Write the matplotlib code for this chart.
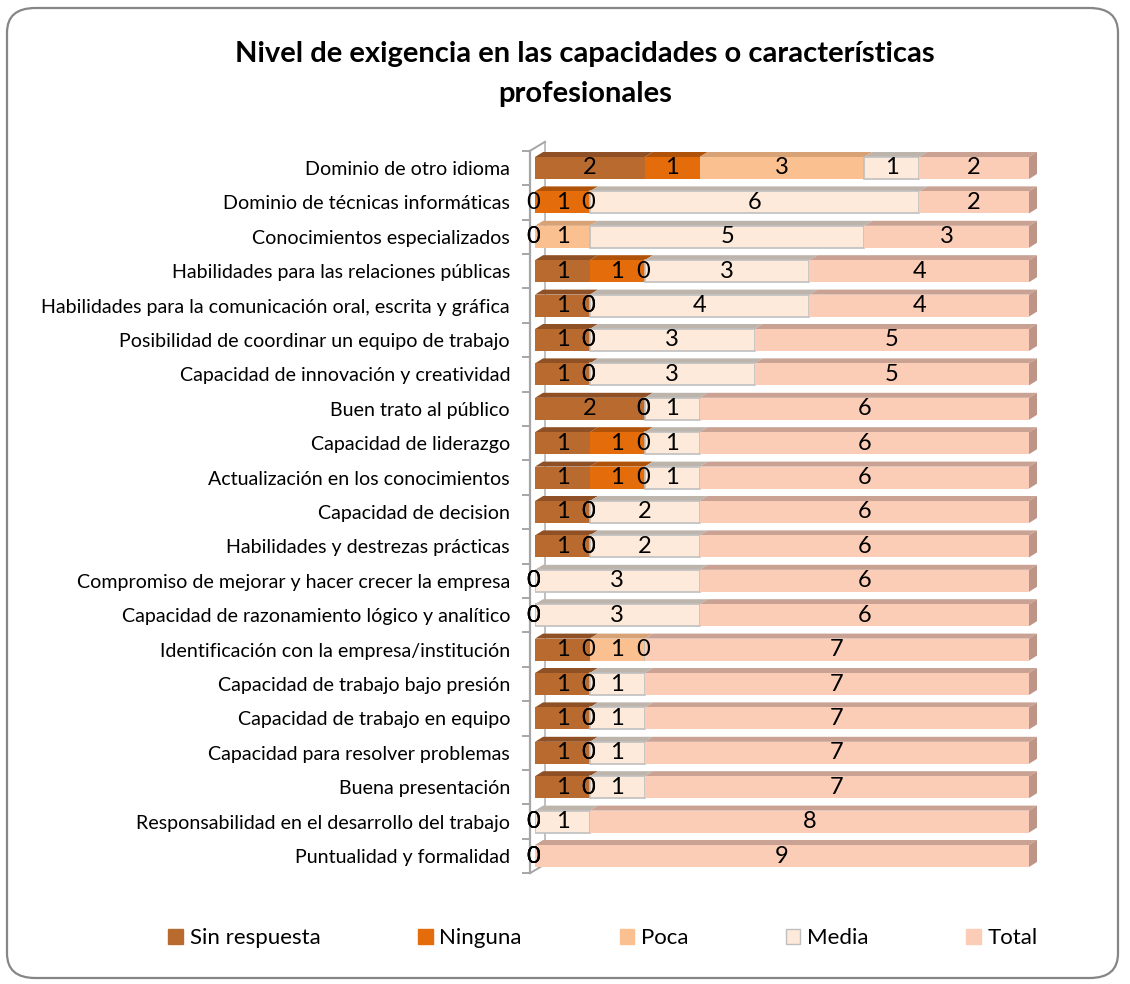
import matplotlib
matplotlib.use("Agg")
import matplotlib.pyplot as plt
from matplotlib.patches import Polygon, FancyBboxPatch, Patch
from matplotlib.lines import Line2D

# ---------------- data ----------------
categories = [
    "Dominio de otro idioma",
    "Dominio de técnicas informáticas",
    "Conocimientos especializados",
    "Habilidades para las relaciones públicas",
    "Habilidades para la comunicación oral, escrita y gráfica",
    "Posibilidad de coordinar un equipo de trabajo",
    "Capacidad de innovación y creatividad",
    "Buen trato al público",
    "Capacidad de liderazgo",
    "Actualización en los conocimientos",
    "Capacidad de decision",
    "Habilidades y destrezas prácticas",
    "Compromiso de mejorar y hacer crecer la empresa",
    "Capacidad de razonamiento lógico y analítico",
    "Identificación con la empresa/institución",
    "Capacidad de trabajo bajo presión",
    "Capacidad de trabajo en equipo",
    "Capacidad para resolver problemas",
    "Buena presentación",
    "Responsabilidad en el desarrollo del trabajo",
    "Puntualidad y formalidad",
]
sin_respuesta = [2, 0, 0, 1, 1, 1, 1, 2, 1, 1, 1, 1, 0, 0, 1, 1, 1, 1, 1, 0, 0]
ninguna       = [1, 1, 0, 1, 0, 0, 0, 0, 1, 1, 0, 0, 0, 0, 0, 0, 0, 0, 0, 0, 0]
poca          = [3, 0, 1, 0, 0, 0, 0, 0, 0, 0, 0, 0, 0, 0, 1, 0, 0, 0, 0, 0, 0]
media         = [1, 6, 5, 3, 4, 3, 3, 1, 1, 1, 2, 2, 3, 3, 0, 1, 1, 1, 1, 1, 0]
total         = [2, 2, 3, 4, 4, 5, 5, 6, 6, 6, 6, 6, 6, 6, 7, 7, 7, 7, 7, 8, 9]
series_names = ["Sin respuesta", "Ninguna", "Poca", "Media", "Total"]
title = "Nivel de exigencia en las capacidades o características\nprofesionales"

# ---------------- style ----------------
front_colors = ["#B96B2F", "#E46C0A", "#FAC090", "#FDEADA", "#FBCCB6"]
top_colors   = ["#8E5024", "#B0530A", "#D8A277", "#BDB4AC", "#C9A294"]
side_colors  = ["#8E5024", "#B0530A", "#D8A277", "#C8BDB3", "#BE9486"]
edge_colors  = ["none", "none", "none", "#BFBFBF", "none"]

FONT = ["Lato", "DejaVu Sans"]
plt.rcParams["font.family"] = FONT

W, H = 1130, 984
fig = plt.figure(figsize=(W / 100, H / 100), dpi=100)

n = len(categories)
x_left, x_right = 535, 1029
y_top, y_bot = 150.8, 873.2
ax = fig.add_axes([x_left / W, 1 - y_bot / H, (x_right - x_left) / W, (y_bot - y_top) / H])
ax.set_facecolor("none")
ax.set_zorder(2)

# chart border
fig.patches.append(FancyBboxPatch((7 / W, 6 / H), (1118 - 7) / W, (976 - 6) / H,
                                  boxstyle="round,pad=0,rounding_size=0.025",
                                  transform=fig.transFigure, facecolor="none",
                                  edgecolor="#868686", linewidth=1.6, zorder=-5))

series = [sin_respuesta, ninguna, poca, media, total]
xmax = max(sum(s[i] for s in series) for i in range(n))
ax.set_xlim(0, xmax)
ax.set_ylim(n - 0.5, -0.5)

ux = (x_right - x_left) / xmax
uy = (y_bot - y_top) / n
bh = 22 / uy
ddx, ddy = 8 / ux, 5 / uy

ypos = list(range(n))
lefts = [0] * n
for k, vals in enumerate(series):
    ax.barh(ypos, vals, left=lefts, height=bh, color=front_colors[k],
            edgecolor=edge_colors[k], linewidth=1.2 if k == 3 else 0, zorder=4)
    for i in range(n):
        v = vals[i]
        l = lefts[i]
        top = i - bh / 2
        if v > 0:
            ax.add_patch(Polygon([(l, top), (l + v, top), (l + v + ddx, top - ddy),
                                  (l + ddx, top - ddy)], closed=True,
                                 facecolor=top_colors[k], edgecolor="none",
                                 zorder=3, clip_on=False))
            if all(series[j][i] == 0 for j in range(k + 1, len(series))):
                r = l + v
                ax.add_patch(Polygon([(r, top), (r + ddx, top - ddy),
                                      (r + ddx, i + bh / 2 - ddy), (r, i + bh / 2)],
                                     closed=True, facecolor=side_colors[k],
                                     edgecolor="none", zorder=3, clip_on=False))
            ax.text(l + v / 2, i, str(v), ha="center", va="center",
                    fontsize=17, color="black", zorder=6)
        else:
            ax.text(l - 0.03, i, "0", ha="center", va="center",
                    fontsize=17, color="black", zorder=6, clip_on=False)
    lefts = [lefts[i] + vals[i] for i in range(n)]

# axis / wall
for s in ["top", "right", "bottom"]:
    ax.spines[s].set_visible(False)
ax.spines["left"].set_position(("outward", 3.6))
ax.spines["left"].set_color("#A6A6A6")
ax.spines["left"].set_linewidth(1.6)
ax.set_xticks([])
ax.set_yticks(ypos)
ax.set_yticklabels(categories, fontsize=14.1)
ax.set_yticks([i - 0.5 for i in range(n + 1)], minor=True)
ax.tick_params(axis="y", which="major", length=0, pad=14.4)
ax.tick_params(axis="y", which="minor", length=6, width=1.4, color="#A6A6A6", direction="out")

wx, wy = 15 / ux, 9 / uy
x0 = -5 / ux
ax.add_line(Line2D([x0 + wx, x0 + wx], [-0.5 - wy, n - 0.5 - wy], color="#BFBFBF",
                   lw=1.4, zorder=1, clip_on=False))
ax.add_line(Line2D([x0, x0 + wx], [-0.5, -0.5 - wy], color="#A6A6A6", lw=1.4,
                   zorder=1, clip_on=False))
ax.add_line(Line2D([x0, x0 + wx], [n - 0.5, n - 0.5 - wy], color="#A6A6A6", lw=1.4,
                   zorder=1, clip_on=False))

# title
fig.text(585 / W, 1 - 74 / H, title, ha="center", va="center", fontsize=21,
         fontweight="bold", linespacing=1.62)

# legend
handles = [Patch(facecolor=front_colors[k],
                 edgecolor="#BFBFBF" if k == 3 else front_colors[k],
                 linewidth=1.0) for k in range(len(series_names))]
fig.legend(handles, series_names, loc="center", bbox_to_anchor=(603 / W, 1 - 938 / H),
           ncol=5, frameon=False, fontsize=16, handlelength=0.65, handleheight=0.65,
           handletextpad=0.3, columnspacing=4.4)

fig.savefig("out.png", dpi=100, facecolor="white")
